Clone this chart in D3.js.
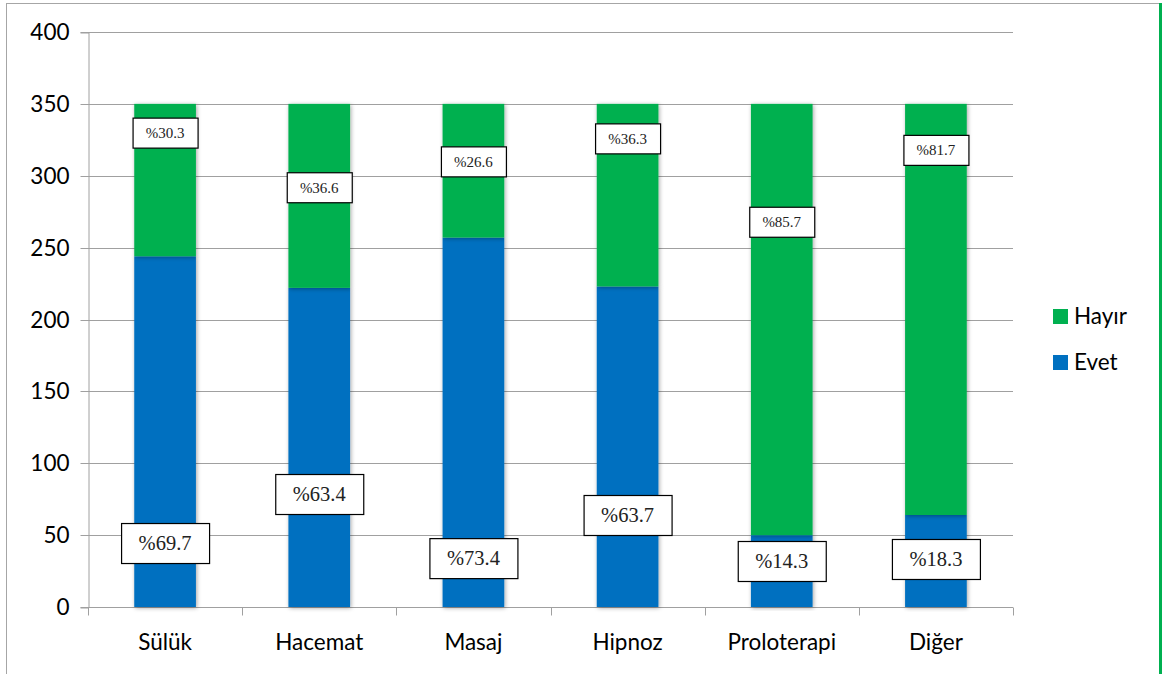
<!DOCTYPE html>
<html>
<head>
<meta charset="utf-8">
<script src="https://cdn.jsdelivr.net/npm/d3@7"></script>
<style>
  body { margin: 0; background: #fff; }
  svg { display: block; }
</style>
</head>
<body>
<script>
// chart data
let categories = ['Sülük', 'Hacemat', 'Masaj', 'Hipnoz', 'Proloterapi', 'Diğer']
let evet = [244, 222, 257, 223, 50, 64]
let hayir = [106, 128, 93, 127, 300, 286]
let evetPct = ['%69.7', '%63.4', '%73.4', '%63.7', '%14.3', '%18.3']
let hayirPct = ['%30.3', '%36.6', '%26.6', '%36.3', '%85.7', '%81.7']
// where the (hand placed) labels sit, in axis units
let evetLabelAt = [44.5, 78.6, 34, 64, 32, 33.4]
let hayirLabelAt = [330, 292, 310, 326, 268, 318]
let yTicks = [0, 50, 100, 150, 200, 250, 300, 350, 400]

let width = 1165, height = 674
let blue = '#0070c0', green = '#00b050'
let sans = 'Lato, "Open Sans", sans-serif'

let svg = d3.select('body').append('svg')
    .attr('width', width)
    .attr('height', height)

let defs = svg.append('defs')
let filter = defs.append('filter').attr('id', 'shadow')
    .attr('x', '-20%').attr('y', '-5%').attr('width', '140%').attr('height', '110%')
filter.append('feDropShadow')
    .attr('dx', 1).attr('dy', 1).attr('stdDeviation', 2)
    .attr('flood-color', '#000').attr('flood-opacity', 0.35)

// outer frame
svg.append('line').attr('x1', 6.5).attr('x2', 6.5).attr('y1', 3).attr('y2', 674)
    .attr('stroke', '#a6a6a6')
svg.append('line').attr('x1', 6).attr('x2', 1160).attr('y1', 3.5).attr('y2', 3.5)
    .attr('stroke', '#a6a6a6')
svg.append('line').attr('x1', 1160.5).attr('x2', 1160.5).attr('y1', 3).attr('y2', 674)
    .attr('stroke', green).attr('stroke-width', 3)

let x = d3.scaleBand()
    .domain(categories)
    .range([88, 1013])
    .paddingInner(0.6)
    .paddingOuter(0.3)

let xOuter = d3.scaleBand().domain(categories).range([88, 1013])

let y = d3.scaleLinear()
    .domain([0, 400])
    .range([607, 32])

// gridlines
svg.append('g')
    .selectAll('line')
    .data(yTicks.filter(d => d > 0))
    .enter()
    .append('line')
        .attr('x1', 88)
        .attr('x2', 1013)
        .attr('y1', d => Math.round(y(d)) + 0.5)
        .attr('y2', d => Math.round(y(d)) + 0.5)
        .attr('stroke', '#a0a0a0')

// y axis
let yAxis = d3.axisLeft(y).tickValues(yTicks).tickSize(8).tickPadding(11)
let yg = svg.append('g')
    .attr('transform', 'translate(88.5,0.5)')
    .call(yAxis)
yg.select('.domain').attr('stroke', '#a0a0a0')
yg.selectAll('.tick line').attr('stroke', '#a0a0a0')
yg.selectAll('.tick text')
    .attr('font-family', sans)
    .attr('font-size', 22.5)
    .attr('fill', '#000')
yg.selectAll('.tick').attr('transform', d => 'translate(0,' + Math.round(y(d)) + ')')

// x axis, ticks on the band edges
let xg = svg.append('g').attr('transform', 'translate(0,' + (Math.round(y(0)) + 0.5) + ')')
xg.append('line').attr('x1', 88).attr('x2', 1013).attr('stroke', '#a0a0a0')
xg.selectAll('.edge')
    .data(categories.concat(['end']))
    .enter()
    .append('line')
        .attr('x1', (d, i) => Math.round(88 + i * xOuter.bandwidth()) + 0.5)
        .attr('x2', (d, i) => Math.round(88 + i * xOuter.bandwidth()) + 0.5)
        .attr('y1', 0)
        .attr('y2', 8)
        .attr('stroke', '#a0a0a0')
xg.selectAll('.lbl')
    .data(categories)
    .enter()
    .append('text')
        .attr('x', d => xOuter(d) + xOuter.bandwidth() / 2)
        .attr('y', 42)
        .attr('text-anchor', 'middle')
        .attr('font-family', sans)
        .attr('font-size', 22.5)
        .text(d => d)

// bars
let bars = svg.append('g')
bars.selectAll('.evet')
    .data(categories)
    .enter()
    .append('rect')
        .attr('x', d => x(d))
        .attr('width', x.bandwidth())
        .attr('y', (d, i) => y(evet[i]))
        .attr('height', (d, i) => y(0) - y(evet[i]))
        .attr('fill', blue)
        .attr('filter', 'url(#shadow)')
bars.selectAll('.hayir')
    .data(categories)
    .enter()
    .append('rect')
        .attr('x', d => x(d))
        .attr('width', x.bandwidth())
        .attr('y', (d, i) => y(evet[i] + hayir[i]))
        .attr('height', (d, i) => y(evet[i]) - y(evet[i] + hayir[i]))
        .attr('fill', green)
        .attr('filter', 'url(#shadow)')

// percent labels in boxes
function addLabels(texts, at, w, h, fs) {
    let g = svg.append('g').selectAll('g')
        .data(categories)
        .enter()
        .append('g')
            .attr('transform', (d, i) => 'translate(' + (x(d) + x.bandwidth() / 2) + ',' + y(at[i]) + ')')
    g.append('rect')
        .attr('x', -w / 2 + 0.5)
        .attr('y', -h / 2 + 0.5)
        .attr('width', w)
        .attr('height', h)
        .attr('fill', '#fff')
        .attr('stroke', '#000')
        .attr('stroke-width', 1.2)
    g.append('text')
        .attr('text-anchor', 'middle')
        .attr('dy', '0.35em')
        .attr('font-family', '"Liberation Serif", "DejaVu Serif", serif')
        .attr('font-size', fs)
        .attr('fill', '#222')
        .text((d, i) => texts[i])
}
addLabels(evetPct, evetLabelAt, 88, 40, 20.5)
addLabels(hayirPct, hayirLabelAt, 65, 30, 15)

// legend
let legend = svg.append('g').attr('transform', 'translate(1053,0)')
let items = [['Hayır', green, 316], ['Evet', blue, 362]]
items.forEach(function(it) {
    legend.append('rect')
        .attr('x', 0).attr('y', it[2] - 7)
        .attr('width', 15).attr('height', 15)
        .attr('fill', it[1])
    legend.append('text')
        .attr('x', 21).attr('y', it[2])
        .attr('dy', '0.35em')
        .attr('font-family', sans)
        .attr('font-size', 22.5)
        .text(it[0])
})
</script>
</body>
</html>
